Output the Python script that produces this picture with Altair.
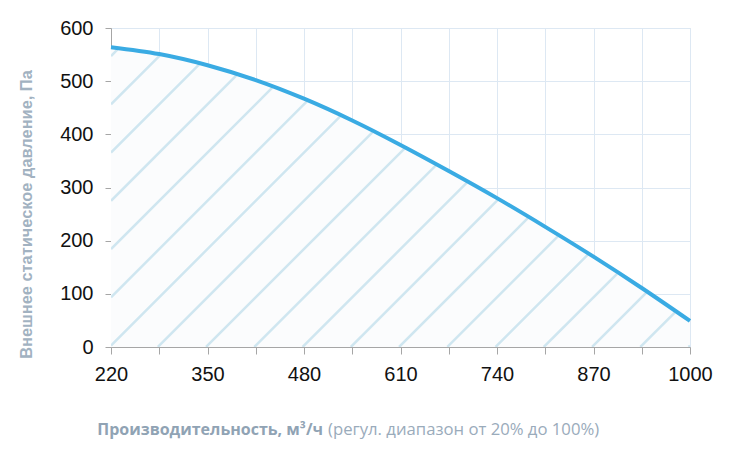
import altair as alt
import pandas as pd
import numpy as np

# ---- data ----
flow = [220, 285, 350, 415, 480, 545, 610, 675, 740, 805, 870, 935, 1000]
pressure = [564, 551, 530, 502, 467, 426, 380, 331, 280, 226, 170, 111, 49]
x_ticks = [220, 285, 350, 415, 480, 545, 610, 675, 740, 805, 870, 935, 1000]
x_labels = [220, 350, 480, 610, 740, 870, 1000]
y_ticks = [0, 100, 200, 300, 400, 500, 600]

y_title = "Внешнее статическое давление, Па"
x_title_bold = "Производительность, м³/ч"
x_title_rest = "(регул. диапазон от 20% до 100%)"

FONT = "Liberation Sans, Arial, sans-serif"

# ---- layout ----
W, H = 579, 319
XMIN, XMAX, YMIN, YMAX = 220, 1000, 0, 600
pxx = W / (XMAX - XMIN)
pxy = H / (YMAX - YMIN)
slope = pxx / pxy  # 45 degrees on screen

curve = pd.DataFrame({"flow": flow, "pressure": pressure})

# hatch lines, clipped by the curve
fx = np.array(flow, float)
fy = np.array(pressure, float)
grid = np.linspace(XMIN, XMAX, 4001)
cy = np.interp(grid, fx, fy)
rows = []
step = 65
x0 = XMIN - 2 - step * 8
while x0 < XMAX:
    ly = slope * (grid - x0)
    mask = (grid >= x0) & (ly <= cy)
    if mask.any():
        xs = grid[mask]
        xa, xb = xs.min(), xs.max()
        gap = 1.5 / pxx / np.sqrt(2)
        if xb < XMAX - 1e-6:
            xb = xb - gap
        if xb > xa:
            rows.append({"x": xa, "y": slope * (xa - x0), "x2": xb, "y2": slope * (xb - x0)})
    x0 += step
hatch = pd.DataFrame(rows)

label_list = ",".join(str(v) for v in x_labels)

xscale = alt.Scale(domain=[XMIN, XMAX], nice=False, zero=False)
yscale = alt.Scale(domain=[YMIN, YMAX], nice=False)

x_axis = alt.Axis(
    values=x_ticks, format="d",
    labelExpr=f"indexof([{label_list}], datum.value) >= 0 ? datum.label : ''",
    grid=True, gridColor="#dde8f3", gridWidth=1,
    domainColor="#a6a6a6", tickColor="#a6a6a6", tickSize=7,
    labelFont=FONT, labelFontSize=20, labelColor="#111111",
    labelPadding=10, labelFlush=False, labelOverlap=False, title=None,
)
y_axis = alt.Axis(
    values=y_ticks, grid=True, gridColor="#dde8f3", gridWidth=1,
    domainColor="#a6a6a6", tickColor="#a6a6a6", tickSize=6,
    labelFont=FONT, labelFontSize=20, labelColor="#111111",
    labelPadding=12, labelFlush=False,
    title=y_title, titleFont=FONT, titleFontSize=16.4,
    titleFontWeight="bold", titleColor="#a2b2c1",
    titleAngle=270, titleAlign="center", titleBaseline="alphabetic",
    titleX=-80, titleY=186,
)

area = alt.Chart(curve).mark_area(color="#fbfcfd", interpolate="monotone").encode(
    x=alt.X("flow:Q", scale=xscale, axis=x_axis),
    y=alt.Y("pressure:Q", scale=yscale, axis=y_axis),
)

hatch_layer = alt.Chart(hatch).mark_rule(color="#cfe6f0", strokeWidth=2.5, clip=True).encode(
    x=alt.X("x:Q", scale=xscale),
    y=alt.Y("y:Q", scale=yscale),
    x2="x2:Q",
    y2="y2:Q",
)

line = alt.Chart(curve).mark_line(color="#3aabe3", strokeWidth=4, interpolate="monotone").encode(
    x=alt.X("flow:Q", scale=xscale),
    y=alt.Y("pressure:Q", scale=yscale),
)

t1 = alt.Chart(pd.DataFrame({"t": [x_title_bold]})).mark_text(
    align="right", baseline="alphabetic", font="Open Sans", fontWeight="bold",
    fontSize=16, color="#90a3b4",
).encode(x=alt.value(212), y=alt.value(407), text="t:N")

t2 = alt.Chart(pd.DataFrame({"t": [x_title_rest]})).mark_text(
    align="left", baseline="alphabetic", font="Open Sans", fontWeight="normal",
    fontSize=16.7, color="#9aabbb",
).encode(x=alt.value(217), y=alt.value(407), text="t:N")

chart = alt.layer(area, hatch_layer, line, t1, t2).properties(
    width=W, height=H,
    autosize=alt.AutoSizeParams(type="none"),
    padding={"left": 103, "top": 20, "right": 32, "bottom": 101},
).configure_view(stroke=None).configure(background="white")

chart.save("out.html", embed_options={"renderer": "svg", "actions": False})
